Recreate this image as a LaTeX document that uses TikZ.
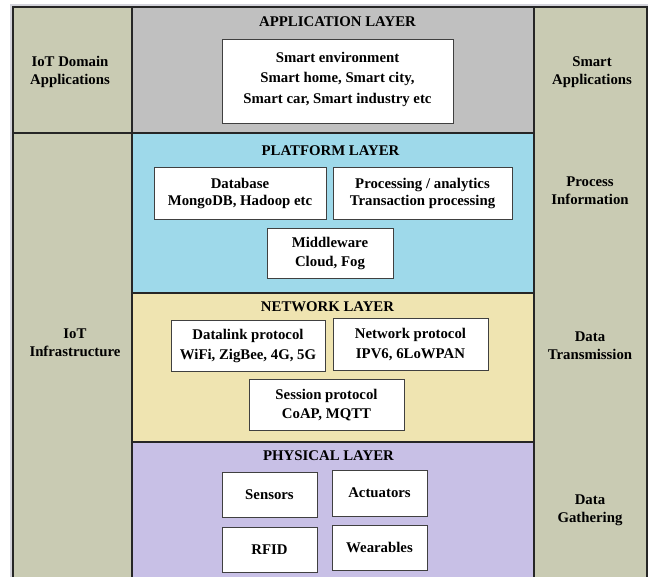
\documentclass[tikz,border=0pt]{standalone}
\usepackage{fontspec}
\setmainfont{Liberation Serif}
\begin{document}
\begin{tikzpicture}[x=1pt,y=-1pt,
  every node/.style={font=\fontsize{14.8}{17}\selectfont\bfseries, inner sep=0pt, outer sep=0pt},
  layer/.style={draw=black!85, line width=1.1pt, anchor=north west, rectangle},
  side/.style={layer, fill=olive},
  itembox/.style={draw=black!75, line width=1pt, fill=white, rectangle, align=center},
  title/.style={anchor=center},
  lbl/.style={align=center, font=\fontsize{14.8}{18}\selectfont\bfseries}
]
\definecolor{olive}{HTML}{C9CBB3}
\definecolor{appgray}{HTML}{C0C0C0}
\definecolor{platblue}{HTML}{9ED9EA}
\definecolor{netbeige}{HTML}{EFE4B1}
\definecolor{physlav}{HTML}{C8C0E6}
\definecolor{framegray}{HTML}{D4D4DC}
\useasboundingbox (0,0) rectangle (648,577);
\fill[white] (0,0) rectangle (648,577);
% outer light frame
\coordinate (f1) at (11,580);
\coordinate (f2) at (11,5);
\coordinate (f3) at (648,5);
\draw[framegray, line width=1.6pt] (f1) -- (f2) -- (f3);
% side columns
\node[side, minimum width=119pt, minimum height=126pt] (leftA) at (13,7) {};
\node[side, minimum width=119pt, minimum height=448pt] (leftB) at (13,133) {};
\node[side, minimum width=113pt, minimum height=574pt] (right) at (534,7) {};
% layers
\node[layer, fill=appgray, minimum width=402pt, minimum height=126pt] (app) at (132,7) {};
\node[layer, fill=platblue, minimum width=402pt, minimum height=160pt] (plat) at (132,133) {};
\node[layer, fill=netbeige, minimum width=402pt, minimum height=149pt] (net) at (132,293) {};
\node[layer, fill=physlav, minimum width=402pt, minimum height=140pt] (phys) at (132,442) {};
% titles
\node[title] (tapp) at (337.5,21.5) {APPLICATION LAYER};
\node[title] (tplat) at (330.5,150.5) {PLATFORM LAYER};
\node[title] (tnet) at (327.5,306.5) {NETWORK LAYER};
\node[title] (tphys) at (328.5,455.5) {PHYSICAL LAYER};
% side labels
\node[lbl] (l1) at (70,71.5) {IoT Domain\\Applications};
\node[lbl] (l2) at (75,342.5) {IoT\\Infrastructure};
\node[lbl] (r1) at (592,72.5) {Smart\\Applications};
\node[lbl] (r2) at (590,191) {Process\\Information};
\node[lbl] (r3) at (590,345.5) {Data\\Transmission};
\node[lbl] (r4) at (590,510.5) {Data\\Gathering};
% application box
\node[itembox, minimum width=231pt, minimum height=84pt] (appbox) at (337.5,82) {};
\node[align=center, font=\fontsize{14.8}{20.5}\selectfont\bfseries] (apptext) at (337.5,79) {Smart environment\\Smart home, Smart city,\\Smart car, Smart industry etc};
% platform boxes
\node[itembox, minimum width=172pt, minimum height=52pt] (db) at (240,193.5) {Database\\MongoDB, Hadoop etc};
\node[itembox, minimum width=179pt, minimum height=52pt] (proc) at (422.5,193.5) {Processing / analytics\\Transaction processing};
\node[itembox, minimum width=126pt, minimum height=50pt, font=\fontsize{14.8}{19}\selectfont\bfseries] (mid) at (330,253.5) {Middleware\\Cloud, Fog};
% network boxes
\node[itembox, minimum width=154pt, minimum height=50pt, font=\fontsize{14.8}{20}\selectfont\bfseries] (dl) at (248,346) {Datalink protocol\\WiFi, ZigBee, 4G, 5G};
\node[itembox, minimum width=155pt, minimum height=51pt, font=\fontsize{14.8}{20}\selectfont\bfseries] (np) at (410.5,344.5) {Network protocol\\IPV6, 6LoWPAN};
\node[itembox, minimum width=155pt, minimum height=51pt, font=\fontsize{14.8}{19}\selectfont\bfseries] (sp) at (326.5,405) {Session protocol\\CoAP, MQTT};
% physical boxes
\node[itembox, minimum width=95pt, minimum height=45pt] (sens) at (269.5,494.5) {Sensors};
\node[itembox, minimum width=95pt, minimum height=46pt] (act) at (379.5,493) {Actuators};
\node[itembox, minimum width=95pt, minimum height=45pt] (rfid) at (269.5,549.5) {RFID};
\node[itembox, minimum width=95pt, minimum height=45pt] (wear) at (379.5,547.5) {Wearables};
\end{tikzpicture}
\end{document}
